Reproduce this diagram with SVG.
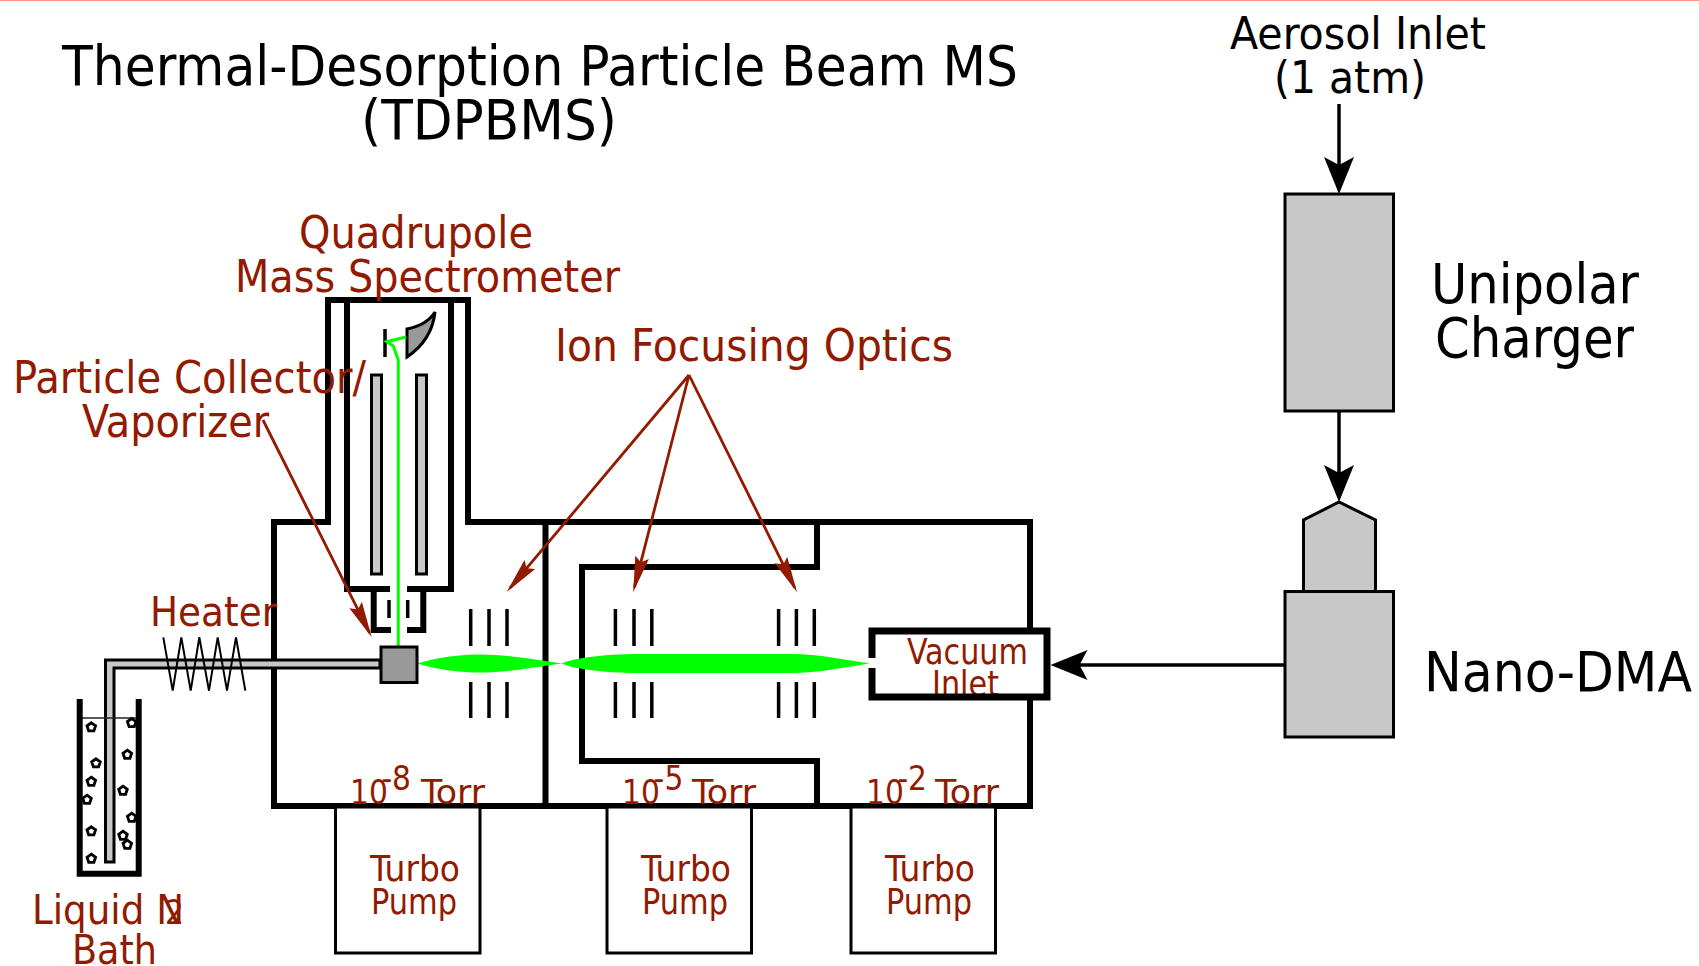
<svg xmlns="http://www.w3.org/2000/svg" xmlns:xlink="http://www.w3.org/1999/xlink" width="1699" height="966" viewBox="0 0 1699 966">
<style>
text{font-family:"DejaVu Sans Condensed","DejaVu Sans",sans-serif;font-stretch:condensed}
.k{fill:#000}.r{fill:#921a00}
.t1{font-size:56px}.t2{font-size:45px}.t3{font-size:41px}.t4{font-size:35px}.t5{font-size:33px}
.w{fill:none;stroke:#000;stroke-width:6;stroke-miterlimit:10}
.g{fill:#c8c8c8;stroke:#000;stroke-width:3}
.d{fill:#999;stroke:#000;stroke-width:3}
.p{fill:#fff;stroke:#000;stroke-width:3}
.l{stroke:#000;stroke-width:3.5;fill:none}
.ra{stroke:#921a00;stroke-width:2.800;fill:none;marker-end:url(#rh)}
.ba{stroke:#000;stroke-width:3.500;fill:none;marker-end:url(#bh)}
</style>
<defs>
<marker id="rh" markerUnits="userSpaceOnUse" markerWidth="44" markerHeight="20" refX="31" refY="8" orient="auto"><path d="M0,1 L36,8 L0,15 L5,8Z" fill="#921a00"/></marker>
<marker id="bh" markerUnits="userSpaceOnUse" markerWidth="44" markerHeight="36" refX="28" refY="18" orient="auto"><path d="M1,3 L38,18 L1,33 L9,18Z" fill="#000"/></marker>
<path id="bub" d="M0,-4.500 L4.300,-1.400 L2.600,3.600 L-2.600,3.600 L-4.300,-1.400Z" fill="#fff" stroke="#000" stroke-width="2.800"/>
</defs>
<rect width="1699" height="966" fill="#fff"/>
<rect width="1699" height="1" fill="#ff9a85"/>
<g id="title"><text class="k t1" x="62" y="85" textLength="956" lengthAdjust="spacingAndGlyphs">Thermal-Desorption Particle Beam MS</text><text class="k t1" x="361" y="139" textLength="256" lengthAdjust="spacingAndGlyphs">(TDPBMS)</text></g>
<g id="tdpbms-chamber">
<path class="w" d="M328,522 V300 H468 V522 H1030 V806 H274 V522Z"/>
<path class="w" d="M545.500,522 V806"/>
<path class="w" d="M817,522 V567 H582 V761 H817 V806"/>
</g>
<g id="quadrupole-ms">
<path class="w" d="M347,300 V589 H390 M407,589 H451 V300"/>
<path class="w" d="M373.700,589 V630 H391 M407,630 H423.300 V589"/>
<rect class="g" x="371.500" y="375" width="10" height="199"/>
<rect class="g" x="416.500" y="375" width="10" height="199"/>
<path class="l" d="M389,600V618M407.700,600V618M385,329V357"/>
<path class="d" d="M407,329 Q427,325 435,312 Q432,340 407,357Z"/>
<path d="M398.300,646 V360 L393.300,346 L386.700,341.700 L406,337" fill="none" stroke="#0f0" stroke-width="3"/>
</g>
<g id="ion-optics">
<path class="l" d="M470.700,609V646M489,609V646M507,609V646M470.700,682V718M489,682V718M507,682V718"/>
<path class="l" d="M615.400,609V646M634,609V646M651.800,609V646M615.400,682V718M634,682V718M651.800,682V718"/>
<path class="l" d="M778.600,609V646M796.400,609V646M814.300,609V646M778.600,682V718M796.400,682V718M814.300,682V718"/>
</g>
<g id="vacuum-inlet">
<path d="M872,631 H1047 V697 H872Z" fill="#fff"/>
<text class="r t4" x="907" y="664" textLength="121" lengthAdjust="spacingAndGlyphs">Vacuum</text><text class="r t4" x="932" y="696" textLength="67" lengthAdjust="spacingAndGlyphs">Inlet</text>
<path d="M872,658 V631 H1047 V697 H872 V668" fill="none" stroke="#000" stroke-width="7"/>
</g>
<g id="particle-beam"><path d="M417,663.500 C440,657 460,654.500 480,654.500 C505,654.500 530,659 561.500,663.500 C572,659 600,654 640,654 H790 C820,654 845,660 869.500,663.500 C845,667 820,673 790,673 H640 C600,673 572,668 561.500,663.500 C530,668 505,672.500 480,672.500 C460,672.500 440,670 417,663.500Z" fill="#0f0"/></g>
<g id="vaporizer">
<path class="g" d="M380,660 H105.500 V862 H114 V668 H380Z"/>
<rect class="d" x="381" y="647" width="36" height="35.500"/>
<path d="M163.300,637.300 L172.700,690.700 L181.300,637.300 L190.700,690.700 L199.300,637.300 L209,690.700 L217.700,637.300 L227,690.700 L236,637.300 L245.300,690.700" fill="none" stroke="#000" stroke-width="2"/>
<text class="r t3" x="150" y="626" textLength="127" lengthAdjust="spacingAndGlyphs">Heater</text>
</g>
<g id="ln2-bath">
<path d="M82,718 H136" stroke="#222" stroke-width="1.500"/>
<path class="w" d="M79.700,699 V873.700 H138.700 V699"/>
<use xlink:href="#bub" href="#bub" x="91.300" y="727.300"/><use xlink:href="#bub" href="#bub" x="131.700" y="723"/><use xlink:href="#bub" href="#bub" x="127.300" y="754.700"/><use xlink:href="#bub" href="#bub" x="96" y="763.300"/><use xlink:href="#bub" href="#bub" x="91.300" y="781.700"/><use xlink:href="#bub" href="#bub" x="123" y="790.700"/><use xlink:href="#bub" href="#bub" x="87" y="799.700"/><use xlink:href="#bub" href="#bub" x="131.700" y="817.700"/><use xlink:href="#bub" href="#bub" x="91.300" y="831.300"/><use xlink:href="#bub" href="#bub" x="123" y="835.700"/><use xlink:href="#bub" href="#bub" x="127.300" y="844.700"/><use xlink:href="#bub" href="#bub" x="91.300" y="858.700"/>
<text class="r t3" x="32" y="924" textLength="152" lengthAdjust="spacingAndGlyphs">Liquid N</text><text class="r t3" x="165" y="924" style="font-size:33px">2</text><text class="r t3" x="72" y="964" textLength="85" lengthAdjust="spacingAndGlyphs">Bath</text>
</g>
<g id="pump-1"><rect class="p" x="335.500" y="807" width="144.500" height="146"/><text class="r t4" x="370" y="881" textLength="90" lengthAdjust="spacingAndGlyphs">Turbo</text><text class="r t4" x="371" y="913.500" textLength="86" lengthAdjust="spacingAndGlyphs">Pump</text></g>
<g id="pump-2"><rect class="p" x="607" y="807" width="144.500" height="146"/><text class="r t4" x="641" y="881" textLength="90" lengthAdjust="spacingAndGlyphs">Turbo</text><text class="r t4" x="642" y="913.500" textLength="86" lengthAdjust="spacingAndGlyphs">Pump</text></g>
<g id="pump-3"><rect class="p" x="851" y="807" width="144.500" height="146"/><text class="r t4" x="885" y="881" textLength="90" lengthAdjust="spacingAndGlyphs">Turbo</text><text class="r t4" x="886" y="913.500" textLength="86" lengthAdjust="spacingAndGlyphs">Pump</text></g>
<g id="pressure-labels">
<text class="r t5" x="350" y="804">10<tspan x="381.500" dy="-14">-</tspan><tspan x="392">8</tspan><tspan x="421" dy="14" textLength="64" lengthAdjust="spacingAndGlyphs">Torr</tspan></text>
<text class="r t5" x="622" y="804">10<tspan x="653.500" dy="-14">-</tspan><tspan x="664.500">5</tspan><tspan x="692" dy="14" textLength="64" lengthAdjust="spacingAndGlyphs">Torr</tspan></text>
<text class="r t5" x="866" y="804">10<tspan x="897.500" dy="-14">-</tspan><tspan x="908">2</tspan><tspan x="935" dy="14" textLength="64" lengthAdjust="spacingAndGlyphs">Torr</tspan></text>
</g>
<g id="optics-labels">
<text class="r t2" x="299" y="248" textLength="234" lengthAdjust="spacingAndGlyphs">Quadrupole</text>
<text class="r t2" x="235" y="292" textLength="385" lengthAdjust="spacingAndGlyphs">Mass Spectrometer</text>
<text class="r t2" x="13" y="392.500" textLength="353" lengthAdjust="spacingAndGlyphs">Particle Collector/</text>
<text class="r t2" x="82" y="436.500" textLength="187" lengthAdjust="spacingAndGlyphs">Vaporizer</text>
<text class="r t2" x="555" y="361" textLength="398" lengthAdjust="spacingAndGlyphs">Ion Focusing Optics</text>
</g>
<g id="unipolar-charger"><rect class="g" x="1285" y="194" width="108.500" height="217"/><text class="k t1" x="1431" y="303" textLength="208" lengthAdjust="spacingAndGlyphs">Unipolar</text><text class="k t1" x="1435" y="357" textLength="199" lengthAdjust="spacingAndGlyphs">Charger</text></g>
<g id="nano-dma"><path class="g" d="M1303.500,593 V520 L1339,502 L1375.500,520 V593Z"/><rect class="g" x="1285" y="591.500" width="108.500" height="145.500"/><text class="k t1" x="1424" y="691" textLength="268" lengthAdjust="spacingAndGlyphs">Nano-DMA</text></g>
<g id="aerosol-inlet-label"><text class="k t2" x="1230" y="48.500" textLength="256" lengthAdjust="spacingAndGlyphs">Aerosol Inlet</text><text class="k t2" x="1274" y="92.500" textLength="152" lengthAdjust="spacingAndGlyphs">(1 atm)</text></g>
<g id="connectors">
<path class="ba" d="M1339,104 V184"/>
<path class="ba" d="M1339,411 V492"/>
<path class="ba" d="M1284,665 H1060.500"/>
<path class="ra" d="M263,420 L369.500,632.800"/>
<path class="ra" d="M689,375 L509.900,588.200"/>
<path class="ra" d="M689,375 L634.400,587.400"/>
<path class="ra" d="M689,375 L794.800,587.800"/>
</g>
</svg>
